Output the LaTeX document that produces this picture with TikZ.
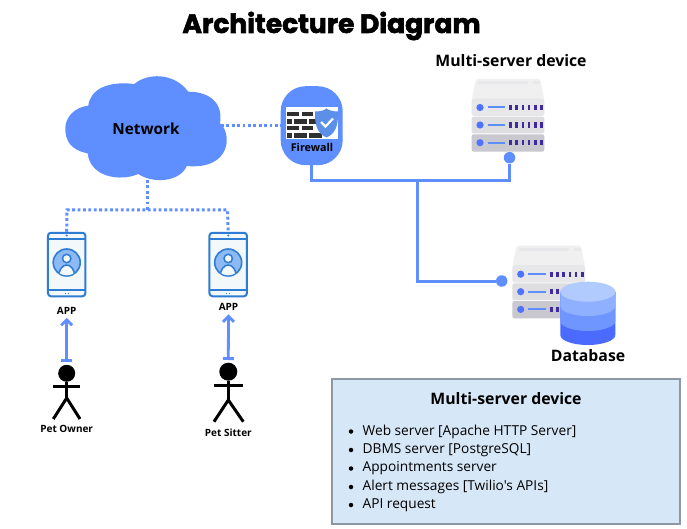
\documentclass[tikz,border=0pt]{standalone}
\usepackage{fontspec}
\setmainfont{Open Sans}
\newfontfamily\titlefont[BoldFeatures={FakeBold=2.2}]{Poppins}
\newfontfamily\itemfont[Ligatures=ResetAll]{Open Sans}
\usepackage{tikz}
\usetikzlibrary{positioning, arrows.meta}
\definecolor{NetBlue}{RGB}{94,142,255}
\definecolor{DotBlue}{RGB}{79,114,255}
\definecolor{PhoneBlue}{RGB}{47,124,211}
\definecolor{PhoneFace}{RGB}{243,248,251}
\definecolor{PhoneIcon}{RGB}{141,185,245}
\definecolor{ShieldBlue}{RGB}{91,143,232}
\definecolor{BrickDark}{RGB}{48,48,48}
\definecolor{RackTop}{RGB}{240,240,240}
\definecolor{RackA}{RGB}{231,231,233}
\definecolor{RackB}{RGB}{222,222,225}
\definecolor{RackC}{RGB}{200,200,206}
\definecolor{RackBar}{RGB}{63,42,158}
\definecolor{DbA}{RGB}{178,203,255}
\definecolor{DbB}{RGB}{142,176,255}
\definecolor{DbC}{RGB}{111,150,255}
\definecolor{DbD}{RGB}{75,107,255}
\definecolor{PanelFill}{RGB}{214,231,247}
\definecolor{PanelLine}{RGB}{140,152,164}
% one server rack, drawn around its centre
\newcommand{\rackstack}[2]{
  \begin{scope}[shift={(#1,#2)}]
    \fill[RackTop, rounded corners=1.5pt] (-36.3,-16) -- (-32,-36) -- (32,-36) -- (36.3,-16) -- cycle;
    \fill[RackB!70!white] (-30,-33.5) rectangle (20,-31);
    \fill[RackB!70!white] (25,-33.5) rectangle (32,-31);
    \fill[RackA, rounded corners=2pt] (-36.3,-16.5) rectangle (36.3,0.8);
    \fill[RackB, rounded corners=2pt] (-36.3,1.7) rectangle (36.3,18.3);
    \fill[RackC, rounded corners=2pt] (-36.3,19.3) rectangle (36.3,36.7);
    \foreach \rowy in {-7.5,10,27.7}{
      \fill[DotBlue] (-28,\rowy) circle (3.6pt);
      \draw[NetBlue, line width=2pt] (-20.5,\rowy) -- (-3,\rowy);
      \foreach \barx in {3,9.2,15.4,21.6,27.8,34}
        \fill[RackBar] (\barx-1.8,\rowy-2.7) rectangle (\barx+0.8,\rowy+2.7);
    }
  \end{scope}
}
% phone face with the user badge
\newcommand{\phoneface}[2]{
  \begin{scope}[shift={(#1,#2)}]
    \draw[PhoneBlue, line width=1.8pt] (-19,-25.5) -- (19,-25.5);
    \draw[PhoneBlue, line width=1.8pt] (-19,25.5) -- (19,25.5);
    \fill[PhoneBlue] (0,-29) circle (1.1pt);
    \fill[PhoneBlue] (-2.2,28.3) rectangle (-0.8,29.5);
    \fill[PhoneBlue] (0.8,28.3) rectangle (2.2,29.5);
    \draw[PhoneBlue, fill=PhoneIcon, line width=1.6pt] (0,-2) circle (13.5pt);
    \begin{scope}
      \clip (0,-2) circle (12.9pt);
      \draw[PhoneBlue, fill=PhoneFace, line width=1.5pt] (0,12) ellipse (8pt and 11.5pt);
    \end{scope}
    \draw[PhoneBlue, fill=PhoneFace, line width=1.5pt] (0,-6) circle (4.2pt);
  \end{scope}
}
\begin{document}
\begin{tikzpicture}[x=1pt, y=-1pt,
    title/.style={font=\titlefont\bfseries\fontsize{26.5}{30}\selectfont},
    heading/.style={font=\bfseries\fontsize{15.8}{18}\selectfont},
    small/.style={font=\bfseries\fontsize{10}{12}\selectfont},
    item/.style={font=\itemfont\fontsize{13.7}{16}\selectfont, anchor=west, inner sep=0pt},
    bullet/.style={circle, fill=black, inner sep=0pt, minimum size=4.5pt},
    fwbox/.style={rectangle, fill=NetBlue, rounded corners=25pt, minimum width=62pt,
                  minimum height=79pt, inner sep=0pt},
    phone/.style={rectangle, draw=PhoneBlue, fill=PhoneFace, line width=2pt,
                  rounded corners=3pt, minimum width=37.5pt, minimum height=63.5pt, inner sep=0pt},
    port/.style={circle, fill=NetBlue, inner sep=0pt, minimum size=11.5pt},
    head/.style={circle, fill=black, inner sep=0pt, minimum size=17pt},
    wire/.style={draw=NetBlue, line width=3pt},
    dots/.style={draw=NetBlue, line width=3pt, dash pattern=on 2.8pt off 2.6pt},
    arr/.style={{Bar[width=11pt,length=2pt]}-{Straight Barb[length=5.5pt,width=11pt]},
                draw=NetBlue, line width=2.8pt},
    limb/.style={draw=black, line width=3pt}
  ]
  \useasboundingbox (0,0) rectangle (687,529);
  \fill[white] (0,0) rectangle (687,529);

  \node[title] (ttl) at (331.5,26) {Architecture Diagram};

  % cloud
  \fill[NetBlue] (88.3,105.7) .. controls (90,90) and (106.7,80.7) .. (134.3,84)
    .. controls (146.7,73.3) and (173.3,71.7) .. (188.3,91.7)
    .. controls (210,91.7) and (223.3,103.3) .. (220,123.3)
    .. controls (232,133) and (232,170) .. (186.7,166)
    .. controls (180,182) and (153,184) .. (138.3,174)
    .. controls (120,182) and (90,177) .. (87.7,153.3)
    .. controls (70,150) and (65.3,140) .. (65.3,128.3)
    .. controls (65.3,117) and (75,107) .. (88.3,105.7) -- cycle;
  \node[font=\bfseries\fontsize{15.3}{18}\selectfont] (net) at (146,128.5) {Network};
  \coordinate (netE) at (221,125.7);
  \coordinate (netS) at (147.3,180);
  \coordinate (split) at (147.3,210);

  % firewall
  \node[fwbox] (fw) at (311.7,125.7) {};
  \fill[white] (285.7,107.3) rectangle (337.7,138.7);
  \foreach \rowy in {111.7,126}{
    \fill[BrickDark] (286.7,\rowy) rectangle (299.3,\rowy+4.4);
    \fill[BrickDark] (301.7,\rowy) rectangle (313.3,\rowy+4.4);
  }
  \foreach \rowy in {119.2,133.3}{
    \fill[BrickDark] (286.7,\rowy) rectangle (291.7,\rowy+4.4);
    \fill[BrickDark] (294,\rowy) rectangle (306.7,\rowy+4.4);
    \fill[BrickDark] (309.3,\rowy) rectangle (322,\rowy+4.4);
  }
  \fill[ShieldBlue] (315,111.5) .. controls (321,111.5) and (325,110) .. (326.5,108.3)
    .. controls (328,110) and (332,111.5) .. (338,111.5)
    .. controls (338.5,126) and (335,134) .. (326.5,137.5)
    .. controls (318,134) and (314.5,126) .. (315,111.5) -- cycle;
  \draw[white, line width=2.2pt] (321,122) -- (325.5,126.5) -- (333,118.5);
  \node[small, font=\bfseries\fontsize{10.8}{12}\selectfont] (fwtxt) at (312,147.5) {Firewall};

  % servers
  \node[heading] (srvtxt) at (511,61) {Multi-server device};
  \rackstack{508}{115}
  \node[port] (srvport) at (509.5,157.7) {};
  \rackstack{548.7}{281.7}
  \node[port] (dbport) at (501.7,281) {};

  % database
  \fill[DbD] (560.3,291.7) -- (560.3,335) arc[start angle=180, end angle=360, x radius=27.5, y radius=-10] -- (615.3,291.7) -- cycle;
  \fill[DbC] (560.3,291.7) -- (560.3,321) arc[start angle=180, end angle=360, x radius=27.5, y radius=-10] -- (615.3,291.7) -- cycle;
  \fill[DbB] (560.3,291.7) -- (560.3,306) arc[start angle=180, end angle=360, x radius=27.5, y radius=-10] -- (615.3,291.7) -- cycle;
  \fill[DbA] (587.8,291.7) ellipse (27.5pt and 10pt);
  \node[heading] (dbtxt) at (588,356) {Database};

  % wires
  \coordinate (fwfoot) at (311.7,181);
  \coordinate (srvfoot) at (509.5,181);
  \coordinate (tee) at (417,181);
  \coordinate (teefoot) at (417,281);
  \draw[wire] (fw.south) -- (fwfoot) -- (srvfoot) -- (srvport);
  \draw[wire] (tee) -- (teefoot) -- (dbport);

  % phones
  \node[phone] (phoneA) at (66.7,264.5) {};
  \phoneface{66.7}{264.5}
  \node[phone] (phoneB) at (228.2,264.5) {};
  \phoneface{228.2}{264.5}
  \node[small] (appA) at (66.7,310.7) {APP};
  \node[small] (appB) at (228.5,307.3) {APP};

  \draw[dots] (netE) -- (fw.west);
  \draw[dots] (netS) -- (split);
  \draw[dots] (phoneA.north) -- (67,210) -- (227.5,210) -- (phoneB.north);

  % people
  \node[head] (headA) at (66.7,373.3) {};
  \coordinate (hipA) at (66.7,398);
  \draw[limb] (headA) -- (hipA);
  \draw[limb] (53.3,386) -- (80,386);
  \draw[limb] (53.3,419) -- (hipA) -- (80,419);
  \node[head, minimum size=18pt] (headB) at (228.3,371.7) {};
  \coordinate (hipB) at (228.3,400);
  \draw[limb] (headB) -- (hipB);
  \draw[limb] (214,385.7) -- (242.7,385.7);
  \draw[limb] (214,421.7) -- (hipB) -- (243.3,421.7);
  \node[small] (ownertxt) at (66.7,429.3) {Pet Owner};
  \node[small] (sittertxt) at (228.3,432.7) {Pet Sitter};

  \draw[arr] (headA.north) ++(0,-2.5) -- (appA.south);
  \draw[arr] (headB.north) ++(0,-2.5) -- (appB.south);

  % panel
  \node[rectangle, draw=PanelLine, fill=PanelFill, line width=1.2pt, minimum width=348pt,
        minimum height=145pt, inner sep=0pt] (panel) at (506,451.5) {};
  \node[heading] (paneltxt) at (506,399) {Multi-server device};
  \node[bullet] (b1) at (351,431.5) {};
  \node[item, right=9pt of b1] (web) {Web server [Apache HTTP Server]};
  \node[bullet] (b2) at (351,450) {};
  \node[item, right=9pt of b2] (dbms) {DBMS server [PostgreSQL]};
  \node[bullet] (b3) at (351,468.5) {};
  \node[item, right=9pt of b3] (appt) {Appointments server};
  \node[bullet] (b4) at (351,487) {};
  \node[item, right=9pt of b4] (alert) {Alert messages [Twilio's APIs]};
  \node[bullet] (b5) at (351,505) {};
  \node[item, right=9pt of b5] (api) {API request};
\end{tikzpicture}
\end{document}
